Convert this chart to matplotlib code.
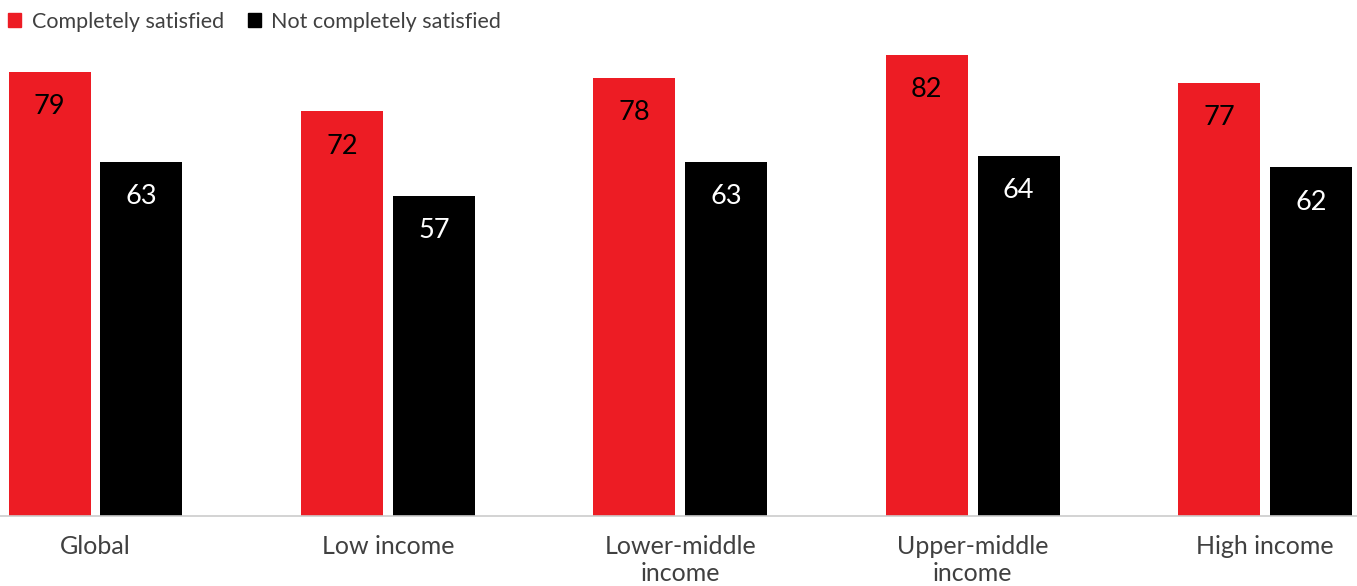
import matplotlib.pyplot as plt
import numpy as np
from matplotlib.patches import Patch

categories = ['Global', 'Low income', 'Lower-middle\nincome', 'Upper-middle\nincome', 'High income']
satisfied = [79, 72, 78, 82, 77]
not_satisfied = [63, 57, 63, 64, 62]

RED = '#ED1C24'
BLACK = '#000000'
TEXT = '#404040'

plt.rcParams['font.family'] = ['Lato', 'DejaVu Sans']

fig = plt.figure(figsize=(13.57, 5.86), dpi=100)
ax = fig.add_axes([0, 0.1195, 1, 0.8805])

x = np.arange(len(categories))
w = 0.28
off = 0.157
b1 = ax.bar(x - off, satisfied, w, color=RED)
b2 = ax.bar(x + off, not_satisfied, w, color=BLACK)

# value labels sit inside the top of each bar
for bars, vals, col in [(b1, satisfied, 'black'), (b2, not_satisfied, 'white')]:
    for bar, v in zip(bars, vals):
        ax.annotate(str(v), (bar.get_x() + bar.get_width() / 2, v),
                    xytext=(0, -25), textcoords='offset points',
                    ha='center', va='center', fontsize=19.5, color=col)

ax.set_xlim(-0.3266, 4.314)
ax.set_ylim(0, 91.8)
ax.set_xticks(x)
ax.set_xticklabels(categories, fontsize=18, color=TEXT, linespacing=1.2)
ax.tick_params(axis='x', length=0, pad=14)
ax.set_yticks([])
for s in ['top', 'right', 'left']:
    ax.spines[s].set_visible(False)
ax.spines['bottom'].set_color('#cccccc')
ax.spines['bottom'].set_linewidth(1.2)

handles = [Patch(color=RED, label='Completely satisfied'),
           Patch(color=BLACK, label='Not completely satisfied')]
fig.legend(handles=handles, loc='upper left', bbox_to_anchor=(-0.005, 1.006), ncol=2,
           frameon=False, fontsize=15.5, labelcolor=TEXT, handlelength=0.6, handleheight=0.6,
           handletextpad=0.5, columnspacing=1.1, borderaxespad=0.3)

fig.savefig('out.png', dpi=100)
